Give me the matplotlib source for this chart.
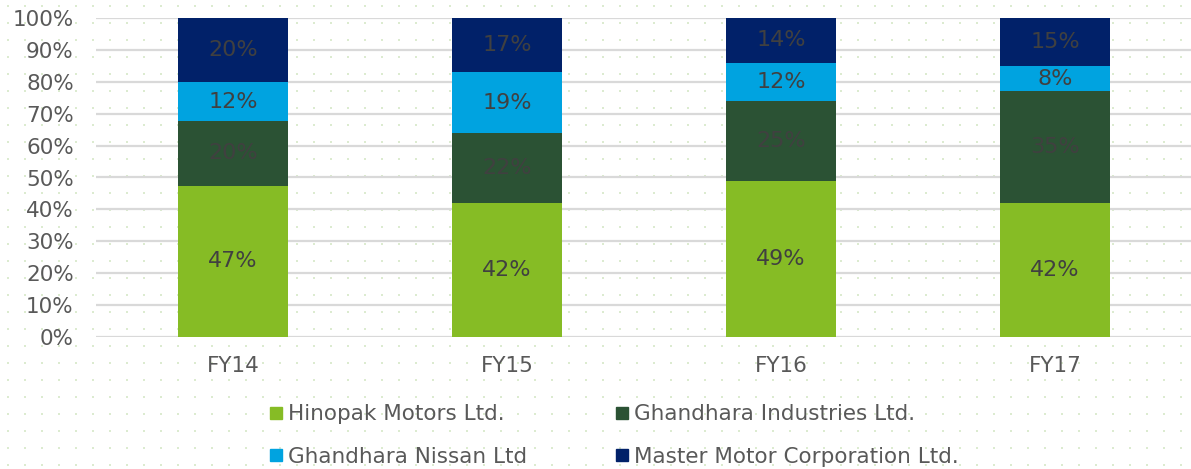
import matplotlib.pyplot as plt
from matplotlib.lines import Line2D
import numpy as np

years = ['FY14', 'FY15', 'FY16', 'FY17']
companies = ['Hinopak Motors Ltd.', 'Ghandhara Industries Ltd.',
             'Ghandhara Nissan Ltd', 'Master Motor Corporation Ltd.']
hinopak = [47, 42, 49, 42]
ghandhara_ind = [20, 22, 25, 35]
ghandhara_nissan = [12, 19, 12, 8]
master_motor = [20, 17, 14, 15]
colors = ['#86bc25', '#2b5234', '#00a3e0', '#012169']

series = np.array([hinopak, ghandhara_ind, ghandhara_nissan, master_motor], dtype=float)
shares = series / series.sum(axis=0) * 100

fig = plt.figure(figsize=(11.91, 4.69), dpi=100)

# dotted background pattern
bg = fig.add_axes([0, 0, 1, 1], zorder=-5)
gx, gy = np.meshgrid(np.arange(8, 1191, 17), np.arange(6, 469, 17))
bg.scatter(gx.ravel(), gy.ravel(), s=1.5, color='#dcebd0', marker='s', linewidths=0)
bg.set_xlim(0, 1191)
bg.set_ylim(469, 0)
bg.axis('off')

ax = fig.add_axes([96 / 1191, 132 / 469, 1096 / 1191, 319 / 469])
ax.patch.set_alpha(0)

x = np.arange(len(years))
bottom = np.zeros(len(years))
for i in range(len(companies)):
    ax.bar(x, shares[i], 0.4, bottom=bottom, color=colors[i], zorder=3)
    for j in range(len(years)):
        ax.text(x[j], bottom[j] + shares[i][j] / 2, f'{int(series[i][j])}%',
                ha='center', va='center', fontsize=16, color='#404040', zorder=4)
    bottom += shares[i]

ax.set_xlim(-0.5, 3.5)
ax.set_ylim(0, 100)
ax.set_yticks(np.arange(0, 101, 10))
ax.set_yticklabels([f'{v}%' for v in range(0, 101, 10)])
ax.set_xticks(x)
ax.set_xticklabels(years)
ax.tick_params(length=0, labelsize=15.5, labelcolor='#595959')
ax.tick_params(axis='x', pad=14)
ax.tick_params(axis='y', pad=16)
ax.grid(axis='y', color='#d9d9d9', linewidth=1.6, zorder=0)
for s in ax.spines.values():
    s.set_visible(False)

# legend filled row by row like the original
order = [0, 2, 1, 3]
handles = [Line2D([], [], marker='s', linestyle='none', markersize=8,
                  color=colors[k]) for k in order]
fig.legend(handles, [companies[k] for k in order], loc='upper left', ncol=2,
           bbox_to_anchor=(246 / 1191, 1 - 385 / 469), frameon=False,
           fontsize=15.5, labelcolor='#595959', handletextpad=0.05,
           columnspacing=3.9, labelspacing=1.05, handlelength=1.0)

plt.savefig('out.png', dpi=100)
